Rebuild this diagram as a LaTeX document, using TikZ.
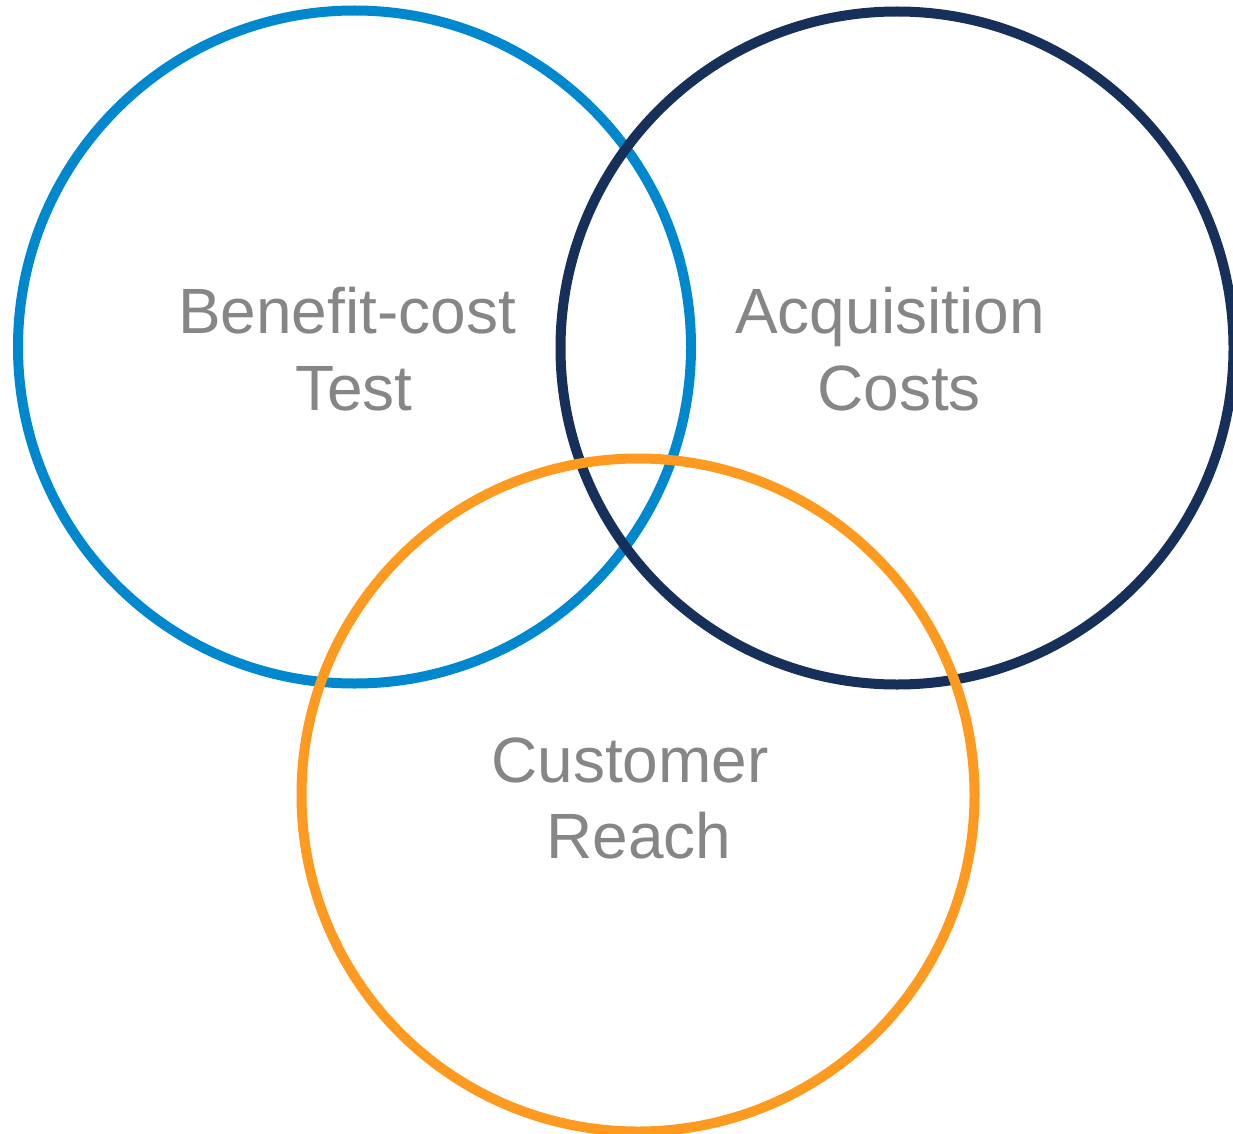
\documentclass[tikz,border=0pt]{standalone}
\usepackage{fontspec}
\setmainfont{Liberation Sans}
\definecolor{cblue}{RGB}{0,136,207}
\definecolor{cnavy}{RGB}{23,48,90}
\definecolor{corange}{RGB}{255,154,32}
\definecolor{tgray}{RGB}{134,134,134}
\tikzset{
  ring/.style={circle, draw=#1, line width=10pt, minimum size=673pt, inner sep=0pt},
  lbl/.style={text=tgray, font=\fontsize{64}{76}\selectfont, anchor=base, inner sep=0pt}
}
\begin{document}
\begin{tikzpicture}[x=1pt,y=-1pt]
\useasboundingbox (0,0) rectangle (1233,1134);
\node[ring=cblue] (bc) at (354.5,347) {};
\node[ring=cnavy] (ac) at (897,348) {};
\node[ring=corange] (cr) at (638,795) {};
\node[lbl] (bc1) at (347,333) {Benefit-cost};
\node[lbl] (bc2) at (354,410) {Test};
\node[lbl] (ac1) at (890,333) {Acquisition};
\node[lbl] (ac2) at (899,410) {Costs};
\node[lbl] (cr1) at (630,782) {Customer};
\node[lbl] (cr2) at (639,858) {Reach};
\end{tikzpicture}
\end{document}
